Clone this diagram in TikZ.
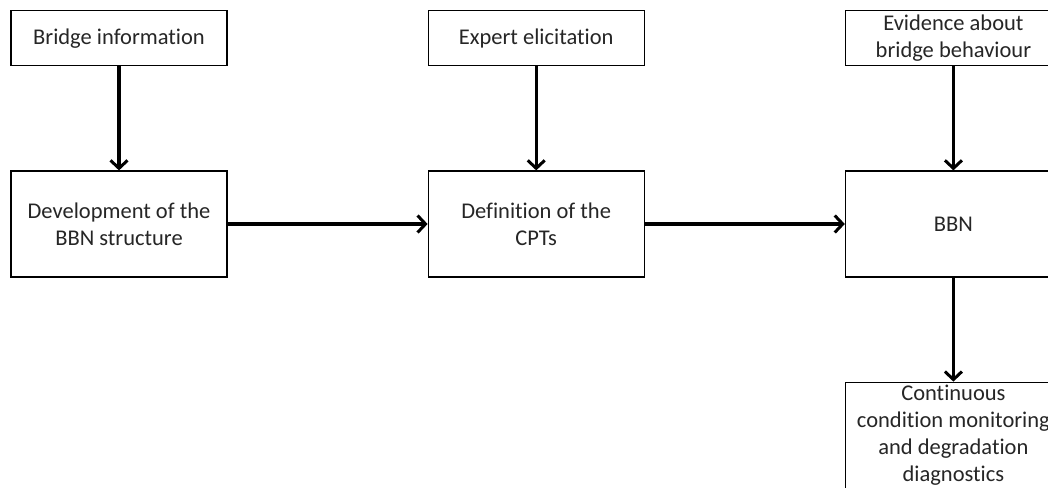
\documentclass[tikz,border=0pt]{standalone}
\usepackage{fontspec}
\setmainfont{Carlito}[Ligatures=CommonOff]
\usetikzlibrary{arrows.meta,positioning}
\tikzset{
    inbox/.style={
        draw=black,
        fill=white,
        rectangle,
        align=center,
        minimum height=55pt,
        minimum width=216pt,
        line width=1.2pt,
        inner sep=0pt,
        text=black!85,
        font=\fontsize{22.5}{27}\selectfont
    },
    stepbox/.style={
        inbox,
        minimum height=106pt
    },
    arrow/.style={
        -{Straight Barb[length=8pt,width=17pt,line width=3pt]},
        line width=3.2pt,
        color=black
    }
}

\begin{document}
\begin{tikzpicture}[node distance=104pt and 200pt]
    \clip (0,0) rectangle (1048pt,-487pt);
    % Steps
    \node[stepbox] (develop) at (119pt,-224pt) {Development of the\\BBN structure};
    \node[stepbox, right=of develop] (cpts) {Definition of the\\CPTs};
    \node[stepbox, right=of cpts] (bbn) {BBN};
    
    % Inputs
    \node[inbox, above=of develop] (info) {Bridge information};
    \node[inbox, above=of cpts] (expert) {Expert elicitation};
    \node[inbox, above=of bbn] (evidence) {Evidence about\\bridge behaviour};
    
    % Output
    \node[stepbox, below=of bbn] (monitor)
        {Continuous\\condition monitoring\\and degradation\\diagnostics};
    
    % Arrows
    \draw[arrow] (info) -- (develop);
    \draw[arrow] (expert) -- (cpts);
    \draw[arrow] (evidence) -- (bbn);
    \draw[arrow] (develop) -- (cpts);
    \draw[arrow] (cpts) -- (bbn);
    \draw[arrow] (bbn) -- (monitor);
\end{tikzpicture}
\end{document}
